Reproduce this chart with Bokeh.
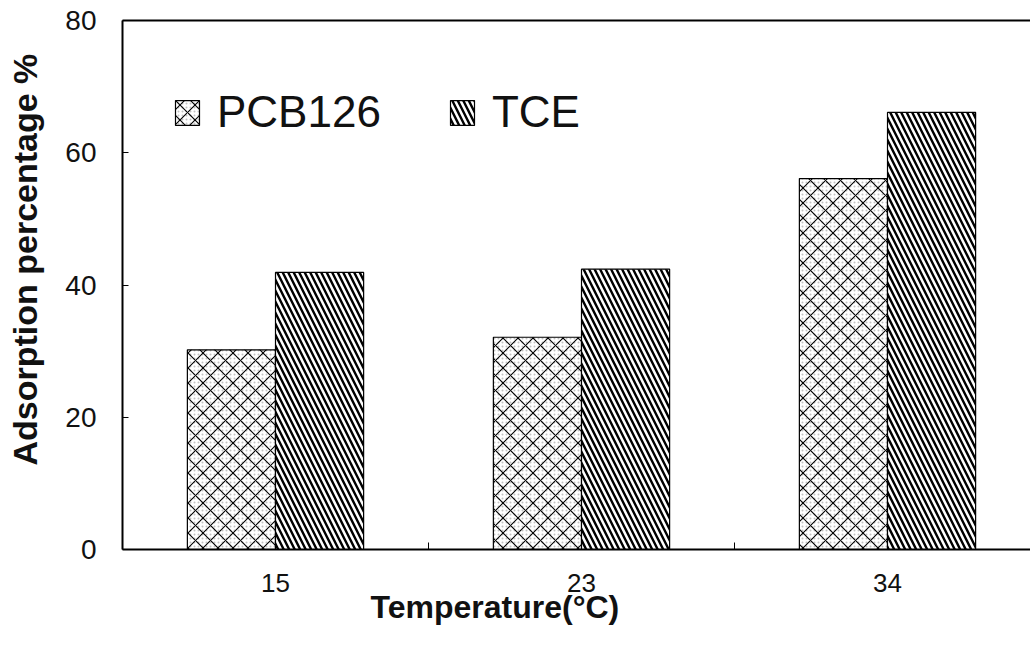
from bokeh.plotting import figure
from bokeh.models import (FixedTicker, LinearAxis, Range1d, ColumnDataSource,
                          Legend, LegendItem, Title)
from bokeh.transform import dodge
from bokeh.embed import file_html
from bokeh.resources import INLINE

# ---- data ----
temps = ["15", "23", "34"]
pcb126 = [30.2, 32.1, 56.1]
tce = [41.9, 42.4, 66.1]
y_ticks = [0, 20, 40, 60, 80]

xpos = [i + 0.5 for i in range(len(temps))]
bounds = [i for i in range(1, len(temps))]
src = ColumnDataSource(dict(x=xpos, pcb=pcb126, tce=tce))

FONT = "Liberation Sans"
BW = 0.288

p = figure(width=1030, height=647, output_backend="svg", toolbar_location=None,
           x_range=Range1d(0, 908 / 306), y_range=Range1d(0, 80),
           min_border_left=122, min_border_right=0, min_border_top=20,
           min_border_bottom=98)
p.xgrid.visible = False
p.ygrid.visible = False
p.outline_line_color = None
p.background_fill_color = "white"
p.border_fill_color = "white"

# x axis
xa = p.xaxis[0]
xa.ticker = FixedTicker(ticks=xpos, minor_ticks=bounds)
xa.major_label_overrides = {x: t for x, t in zip(xpos, temps)}
xa.major_tick_line_color = None
xa.minor_tick_in = 7
xa.minor_tick_out = 0
xa.minor_tick_line_color = "black"
xa.axis_line_width = 2
xa.axis_line_color = "black"
xa.major_label_text_font = FONT
xa.major_label_text_font_size = "26px"
xa.major_label_text_color = "#111111"
xa.major_label_standoff = 18

# y axis
ya = p.yaxis[0]
ya.ticker = FixedTicker(ticks=y_ticks)
ya.major_tick_in = 6
ya.major_tick_out = 0
ya.minor_tick_line_color = None
ya.axis_line_width = 2
ya.axis_line_color = "black"
ya.major_label_text_font = FONT
ya.major_label_text_font_size = "28px"
ya.major_label_text_color = "#111111"
ya.major_label_standoff = 26
ya.axis_label = " "
ya.axis_label_text_font_size = "1px"
ya.axis_label_standoff = 9

# top border line
top = LinearAxis(ticker=FixedTicker(ticks=[]), axis_line_width=2,
                 axis_line_color="black", major_tick_line_color=None,
                 minor_tick_line_color=None, major_label_text_font_size="0px")
p.add_layout(top, "above")

# bars
r1a = p.vbar(x=dodge("x", -BW / 2), top="pcb", width=BW, source=src,
             fill_color="white", line_color=None,
             hatch_pattern="dot", hatch_scale=4, hatch_weight=1,
             hatch_color="#9a9a9a", hatch_alpha=0.6)
r1b = p.vbar(x=dodge("x", -BW / 2), top="pcb", width=BW, source=src,
             fill_color=None, line_color="black", line_width=1.2,
             hatch_pattern="diagonal_cross", hatch_scale=15, hatch_weight=1.1,
             hatch_color="black")
r2 = p.vbar(x=dodge("x", BW / 2), top="tce", width=BW, source=src,
            fill_color="white", line_color="black", line_width=1.2,
            hatch_pattern="left_diagonal_line", hatch_scale=11, hatch_weight=2.4,
            hatch_color="black")

legend = Legend(items=[LegendItem(label="PCB126", renderers=[r1a, r1b]),
                       LegendItem(label="TCE", renderers=[r2])],
                orientation="horizontal", location=(50, 412),
                border_line_color=None, background_fill_alpha=0,
                label_text_font=FONT, label_text_font_size="44px",
                label_text_color="#111111",
                glyph_width=30, glyph_height=31, label_standoff=15,
                spacing=66, padding=0, margin=0)
p.add_layout(legend)

xt = Title(text="Temperature(°C)", align="left", offset=248,
           text_font=FONT, text_font_size="32px", text_font_style="bold",
           text_color="#111111", standoff=-16)
p.add_layout(xt, "below")
yt = Title(text="Adsorption percentage %", align="left", offset=84,
           vertical_align="top", standoff=8,
           text_font=FONT, text_font_size="34px", text_font_style="bold",
           text_color="#111111")
p.add_layout(yt, "left")

open("out.html", "w").write(file_html(p, INLINE))
